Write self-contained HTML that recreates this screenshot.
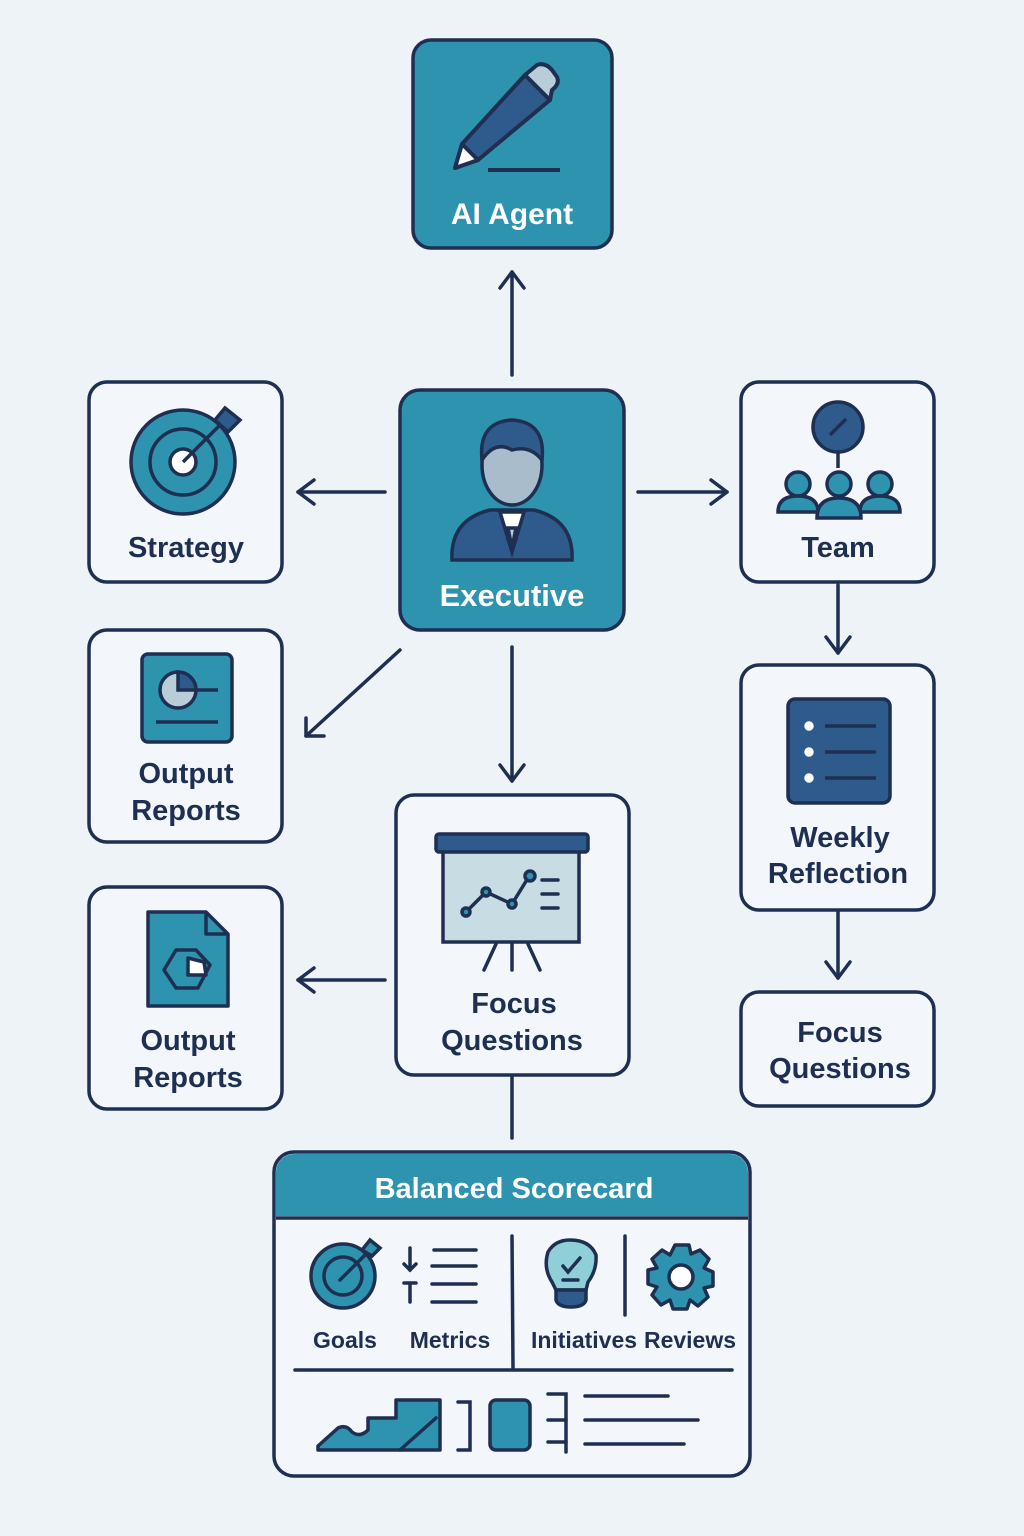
<!DOCTYPE html>
<html><head><meta charset="utf-8"><style>
html,body{margin:0;padding:0;background:#eef3f8;}
svg{display:block}
text{font-family:"Liberation Sans",sans-serif;font-weight:bold;}
</style></head><body>
<svg width="1024" height="1536" viewBox="0 0 1024 1536" xmlns="http://www.w3.org/2000/svg">
<rect width="1024" height="1536" fill="#eef3f8"/>
<g stroke="#1f2f52" stroke-width="3.5" fill="none" stroke-linecap="round" stroke-linejoin="round">
<!-- connectors -->
<line x1="512" y1="375" x2="512" y2="272"/><polyline points="500,288 512,272 524,288"/>
<line x1="385" y1="492" x2="298" y2="492"/><polyline points="314,480 298,492 314,504"/>
<line x1="638" y1="492" x2="727" y2="492"/><polyline points="711,480 727,492 711,504"/>
<line x1="400" y1="650" x2="306" y2="736"/><polyline points="306,718 306,736 324,736"/>
<line x1="512" y1="647" x2="512" y2="781"/><polyline points="500,765 512,781 524,765"/>
<line x1="838" y1="585" x2="838" y2="653"/><polyline points="826,637 838,653 850,637"/>
<line x1="838" y1="912" x2="838" y2="978"/><polyline points="826,962 838,978 850,962"/>
<line x1="385" y1="980" x2="298" y2="980"/><polyline points="314,968 298,980 314,992"/>
<line x1="512" y1="1077" x2="512" y2="1138"/>
</g>
<!-- boxes -->
<g stroke="#1f2f52" stroke-width="3.5">
<rect x="413" y="40" width="199" height="208" rx="18" fill="#2e93ae"/>
<rect x="400" y="390" width="224" height="240" rx="20" fill="#2e93ae"/>
<rect x="89" y="382" width="193" height="200" rx="18" fill="#f3f7fb"/>
<rect x="741" y="382" width="193" height="200" rx="18" fill="#f3f7fb"/>
<rect x="89" y="630" width="193" height="212" rx="18" fill="#f3f7fb"/>
<rect x="741" y="665" width="193" height="245" rx="18" fill="#f3f7fb"/>
<rect x="396" y="795" width="233" height="280" rx="18" fill="#f3f7fb"/>
<rect x="89" y="887" width="193" height="222" rx="18" fill="#f3f7fb"/>
<rect x="741" y="992" width="193" height="114" rx="18" fill="#f3f7fb"/>
<rect x="274" y="1152" width="476" height="324" rx="20" fill="#f3f7fb"/>
</g>
<path d="M276,1216 V1172 a18,18 0 0 1 18,-18 H730 a18,18 0 0 1 18,18 V1216 Z" fill="#2e93ae"/>
<line x1="276" y1="1218" x2="748" y2="1218" stroke="#1f2f52" stroke-width="3.5"/>
<!-- pencil -->
<g stroke="#1f2f52" stroke-width="4" stroke-linejoin="round">
<path d="M525,75 L550,100 L478,160 L455,168 L462,144 Z" fill="#2e5a8c"/>
<path d="M525,75 L537,65 Q545,62 552,70 L557,77 Q560,84 552,90 L550,100 Z" fill="#b9cdd8"/>
<path d="M462,144 L455,168 L478,160 Z" fill="#fff"/>
<line x1="488" y1="170" x2="560" y2="170"/>
</g>
<text x="512" y="224" font-size="30" fill="#fff" text-anchor="middle">AI Agent</text>
<!-- executive -->
<g stroke="#1f2f52" stroke-width="3.5">
<path d="M452,560 Q450,520 490,510 L534,510 Q574,520 572,560 Z" fill="#2e5a8c"/>
<path d="M500,512 L512,552 L524,512 Z" fill="#fff"/>
<path d="M508,528 L516,528 L512,548Z" fill="#b9cdd8"/>
<ellipse cx="512" cy="465" rx="30" ry="40" fill="#a9bccb"/>
<path d="M482,460 Q478,422 512,420 Q546,422 542,460 Q530,445 512,450 Q495,440 482,460Z" fill="#2e5a8c"/>
</g>
<text x="512" y="606" font-size="31" fill="#fff" text-anchor="middle">Executive</text>
<!-- strategy target -->
<g stroke="#1f2f52" stroke-width="3.5">
<circle cx="183" cy="462" r="52" fill="#2e93ae"/>
<circle cx="183" cy="462" r="33" fill="none"/>
<circle cx="183" cy="462" r="13" fill="#fff"/>
<line x1="183" y1="462" x2="225" y2="420"/>
<path d="M215,420 L225,408 L240,420 L228,432Z" fill="#2e5a8c"/>
</g>
<text x="186" y="557" font-size="29" fill="#1f2f52" text-anchor="middle">Strategy</text>
<!-- team -->
<g stroke="#1f2f52" stroke-width="3.5">
<circle cx="838" cy="427" r="25" fill="#2e5a8c"/><line x1="830" y1="435" x2="846" y2="419"/>
<line x1="838" y1="452" x2="838" y2="468"/>
<circle cx="798" cy="484" r="12" fill="#2e93ae"/><path d="M778,512 Q778,496 798,496 Q818,496 818,512Z" fill="#2e93ae"/>
<circle cx="880" cy="484" r="12" fill="#2e93ae"/><path d="M860,512 Q860,496 880,496 Q900,496 900,512Z" fill="#2e93ae"/>
<circle cx="839" cy="484" r="12" fill="#2e93ae"/><path d="M817,518 Q817,498 839,498 Q861,498 861,518Z" fill="#2e93ae"/>
</g>
<text x="838" y="557" font-size="29" fill="#1f2f52" text-anchor="middle">Team</text>
<!-- output reports 1 -->
<g stroke="#1f2f52" stroke-width="3.5">
<rect x="142" y="654" width="90" height="88" rx="6" fill="#2e93ae"/>
<circle cx="178" cy="690" r="18" fill="#b9cdd8"/><path d="M178,690 V672 A18,18 0 0 1 196,690Z" fill="#2e5a8c"/>
<line x1="196" y1="690" x2="218" y2="690"/><line x1="156" y1="722" x2="218" y2="722"/>
</g>
<text x="186" y="783" font-size="29" fill="#1f2f52" text-anchor="middle">Output</text>
<text x="186" y="820" font-size="29" fill="#1f2f52" text-anchor="middle">Reports</text>
<!-- weekly reflection -->
<g stroke="#1f2f52" stroke-width="3.5">
<rect x="788" y="699" width="102" height="104" rx="7" fill="#2e5a8c"/>
<g stroke="#fff" fill="#fff"><circle cx="809" cy="726" r="3"/><circle cx="809" cy="752" r="3"/><circle cx="809" cy="778" r="3"/></g>
<g stroke="#1f2f52"><line x1="825" y1="726" x2="876" y2="726"/><line x1="825" y1="752" x2="876" y2="752"/><line x1="825" y1="778" x2="876" y2="778"/></g>
</g>
<text x="840" y="847" font-size="29" fill="#1f2f52" text-anchor="middle">Weekly</text>
<text x="838" y="883" font-size="29" fill="#1f2f52" text-anchor="middle">Reflection</text>
<!-- focus questions center -->
<g stroke="#1f2f52" stroke-width="3.5" fill="none" stroke-linecap="round">
<rect x="443" y="850" width="136" height="92" fill="#c8dde3"/>
<rect x="436" y="834" width="152" height="18" rx="3" fill="#2e5a8c"/>
<line x1="496" y1="944" x2="484" y2="970"/><line x1="512" y1="944" x2="512" y2="970"/><line x1="528" y1="944" x2="540" y2="970"/>
<polyline points="466,912 486,892 512,904 528,878"/>
<circle cx="466" cy="912" r="4" fill="#2e93ae"/><circle cx="486" cy="892" r="4" fill="#2e93ae"/><circle cx="512" cy="904" r="4" fill="#2e93ae"/><circle cx="530" cy="876" r="5" fill="#2e93ae"/>
<line x1="542" y1="880" x2="558" y2="880"/><line x1="542" y1="894" x2="558" y2="894"/><line x1="542" y1="908" x2="558" y2="908"/>
</g>
<text x="514" y="1013" font-size="29" fill="#1f2f52" text-anchor="middle">Focus</text>
<text x="512" y="1050" font-size="29" fill="#1f2f52" text-anchor="middle">Questions</text>
<!-- output reports 2 -->
<g stroke="#1f2f52" stroke-width="3.5" stroke-linejoin="round">
<path d="M148,912 H206 L228,934 V1006 H148Z" fill="#2e93ae"/>
<path d="M206,912 V934 H228" fill="none"/>
<path d="M176,950 L196,950 L210,965 L198,988 L176,988 L164,970Z" fill="#2e93ae"/>
<path d="M188,958 L204,962 L206,975 L188,975Z" fill="#fff"/>
</g>
<text x="188" y="1050" font-size="29" fill="#1f2f52" text-anchor="middle">Output</text>
<text x="188" y="1087" font-size="29" fill="#1f2f52" text-anchor="middle">Reports</text>
<!-- focus questions right -->
<text x="840" y="1042" font-size="29" fill="#1f2f52" text-anchor="middle">Focus</text>
<text x="840" y="1078" font-size="29" fill="#1f2f52" text-anchor="middle">Questions</text>
<!-- scorecard -->
<text x="514" y="1198" font-size="29" fill="#fff" text-anchor="middle">Balanced Scorecard</text>
<g stroke="#1f2f52" stroke-width="3.5" stroke-linecap="round">
<circle cx="343" cy="1276" r="32" fill="#2e93ae"/><circle cx="343" cy="1276" r="19" fill="none"/>
<line x1="340" y1="1280" x2="372" y2="1248"/><path d="M362,1250 L370,1240 L380,1248 L372,1256Z" fill="#2e93ae"/>
<line x1="410" y1="1248" x2="410" y2="1270"/><polyline points="404,1264 410,1270 416,1264" fill="none"/>
<line x1="404" y1="1283" x2="416" y2="1283"/><line x1="410" y1="1283" x2="410" y2="1302"/>
<line x1="434" y1="1250" x2="476" y2="1250"/><line x1="432" y1="1266" x2="476" y2="1266"/><line x1="432" y1="1284" x2="476" y2="1284"/><line x1="432" y1="1302" x2="476" y2="1302"/>
<line x1="512" y1="1236" x2="513" y2="1368"/>
<line x1="625" y1="1236" x2="625" y2="1315"/>
<line x1="295" y1="1370" x2="732" y2="1370"/>
<path d="M548,1252 Q555,1240 570,1240 Q590,1240 596,1255 Q597,1270 588,1282 L586,1290 H556 L552,1282 Q543,1268 548,1252Z" fill="#8fcfd8"/>
<path d="M556,1290 H586 V1300 Q584,1307 571,1307 Q558,1307 556,1300Z" fill="#2e5a8c"/>
<polyline points="563,1266 568,1272 580,1258" fill="none"/><line x1="563" y1="1280" x2="578" y2="1280"/>
<path d="M675,1245 L689,1245 L691,1254 L700,1250 L709,1259 L704,1268 L713,1272 L713,1286 L704,1288 L708,1297 L698,1306 L690,1300 L687,1309 L673,1309 L670,1300 L661,1305 L652,1295 L657,1287 L648,1284 L648,1270 L657,1268 L652,1259 L662,1250 L670,1255Z" fill="#2e93ae" stroke-linejoin="round"/>
<circle cx="681" cy="1277" r="12" fill="#fff"/>
<path d="M318,1446 L338,1428 Q346,1424 352,1432 Q360,1438 368,1430 L368,1418 L396,1418 L396,1400 L440,1400 L440,1450 L318,1450Z" fill="#2e93ae" stroke-linejoin="round"/>
<line x1="400" y1="1450" x2="436" y2="1418"/>
<polyline points="458,1402 470,1402 470,1450 458,1450" fill="none"/>
<rect x="490" y="1400" width="40" height="50" rx="6" fill="#2e93ae"/>
<polyline points="548,1394 566,1394 566,1452" fill="none"/><line x1="548" y1="1420" x2="566" y2="1420"/><line x1="548" y1="1442" x2="566" y2="1442"/>
<line x1="585" y1="1396" x2="668" y2="1396"/><line x1="585" y1="1420" x2="698" y2="1420"/><line x1="585" y1="1444" x2="684" y2="1444"/>
</g>
<g font-size="23" fill="#1f2f52" text-anchor="middle" style="font-weight:normal">
<text x="345" y="1348">Goals</text><text x="450" y="1348">Metrics</text>
<text x="584" y="1348">Initiatives</text><text x="690" y="1348">Reviews</text>
</g>
</svg>
</body></html>
